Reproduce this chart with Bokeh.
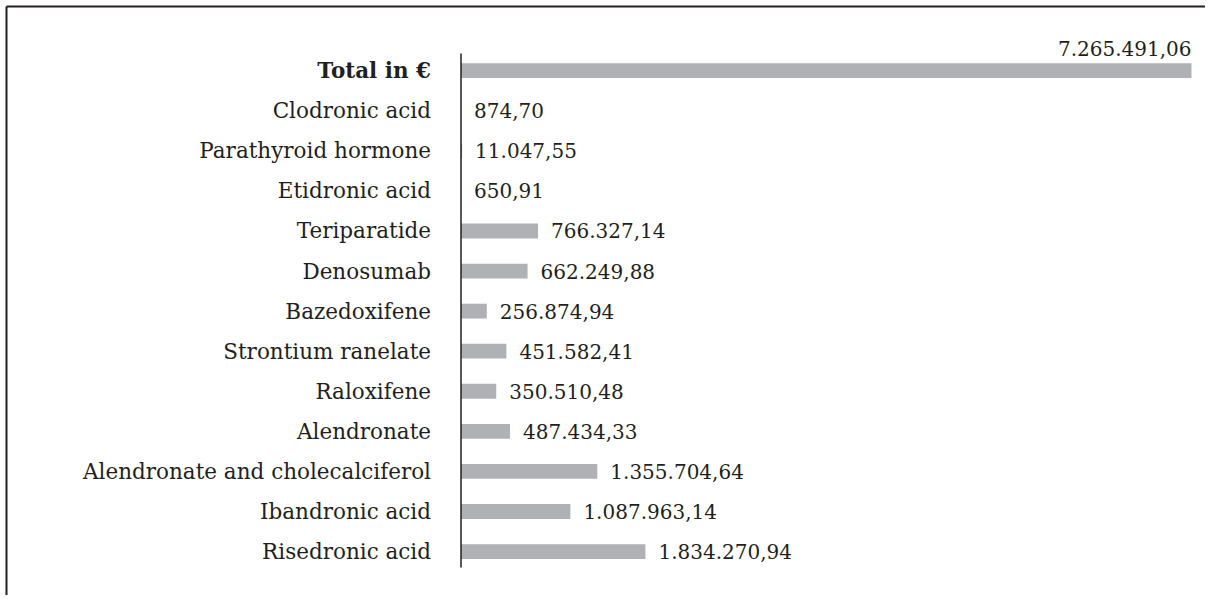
from bokeh.plotting import figure
from bokeh.models import Range1d, ColumnDataSource
from bokeh.embed import file_html
from bokeh.resources import INLINE
from bokeh.core.properties import value

# ---- data (top to bottom as in the chart) ----
categories = [
    "Total in €",
    "Clodronic acid",
    "Parathyroid hormone",
    "Etidronic acid",
    "Teriparatide",
    "Denosumab",
    "Bazedoxifene",
    "Strontium ranelate",
    "Raloxifene",
    "Alendronate",
    "Alendronate and cholecalciferol",
    "Ibandronic acid",
    "Risedronic acid",
]
amounts = [
    7265491.06,
    874.70,
    11047.55,
    650.91,
    766327.14,
    662249.88,
    256874.94,
    451582.41,
    350510.48,
    487434.33,
    1355704.64,
    1087963.14,
    1834270.94,
]


def eur(v):
    s = f"{v:,.2f}"
    return s.replace(",", "X").replace(".", ",").replace("X", ".")


FONT = "DejaVu Serif"
TXT = "#231f20"
BAR = "#b0b1b4"

n = len(categories)
ypos = [n - 1 - i for i in range(n)]
labels = [eur(v) for v in amounts]

# ---- geometry (pixels) ----
W, H = 1205, 595
X0_PX = 460.5            # pixel of value 0
TOTAL_END_PX = 1191.0    # pixel where the largest bar ends
TOP_ROW_PX = 70.2        # pixel centre of the first row
ROW_PX = 40.07           # row spacing in pixels
AX_TOP_PX, AX_BOT_PX = 53.0, 567.0
BORDER_PX = 7.0

upp = max(amounts) / (TOTAL_END_PX - X0_PX)   # data units per pixel (x)
top_y = n - 1


def px_to_x(px):
    return (px - X0_PX) * upp


def py_to_y(py):
    return top_y - (py - TOP_ROW_PX) / ROW_PX


p = figure(
    width=W, height=H,
    output_backend="svg", toolbar_location=None,
    x_range=Range1d(px_to_x(0), px_to_x(W)),
    y_range=Range1d(py_to_y(H), py_to_y(0)),
    min_border=0, min_border_left=0, min_border_right=0,
    min_border_top=0, min_border_bottom=0,
)
p.outline_line_color = None
p.background_fill_color = "white"
p.border_fill_color = "white"
p.grid.visible = False
p.xaxis.visible = False
p.yaxis.visible = False

# frame lines (left and top)
bx, by = px_to_x(BORDER_PX - 1), py_to_y(BORDER_PX - 1)
p.segment(x0=[bx, bx], y0=[by, by], x1=[bx, px_to_x(W + 5)], y1=[py_to_y(H + 5), by],
          line_color=TXT, line_width=2)

src_all = ColumnDataSource(dict(y=ypos, v=amounts, lbl=labels, cat=categories))
src_rest = ColumnDataSource(dict(y=ypos[1:], v=amounts[1:], lbl=labels[1:], cat=categories[1:]))
src_top = ColumnDataSource(dict(y=ypos[:1], v=amounts[:1], lbl=labels[:1], cat=categories[:1]))

p.hbar(y="y", left=0, right="v", height=0.37, source=src_all,
       fill_color=BAR, line_color=None)

# value axis line
p.segment(x0=[0], y0=[py_to_y(AX_TOP_PX)], x1=[0], y1=[py_to_y(AX_BOT_PX)],
          line_color=TXT, line_width=1.5)

# category labels
p.text(x=0, y="y", text="cat", source=src_rest, x_offset=-30,
       text_align="right", text_baseline="middle",
       text_font=value(FONT), text_font_size="21.5px", text_color=TXT)
p.text(x=0, y="y", text="cat", source=src_top, x_offset=-30,
       text_align="right", text_baseline="middle",
       text_font=value(FONT), text_font_size="21.5px", text_font_style="bold",
       text_color=TXT)

# value labels
p.text(x="v", y="y", text="lbl", source=src_rest, x_offset=13,
       text_align="left", text_baseline="middle",
       text_font=value(FONT), text_font_size="20px", text_color=TXT)
p.text(x="v", y="y", text="lbl", source=src_top, x_offset=0, y_offset=-22,
       text_align="right", text_baseline="alphabetic",
       text_font=value(FONT), text_font_size="20px", text_color=TXT)

open("out.html", "w").write(file_html(p, INLINE))
